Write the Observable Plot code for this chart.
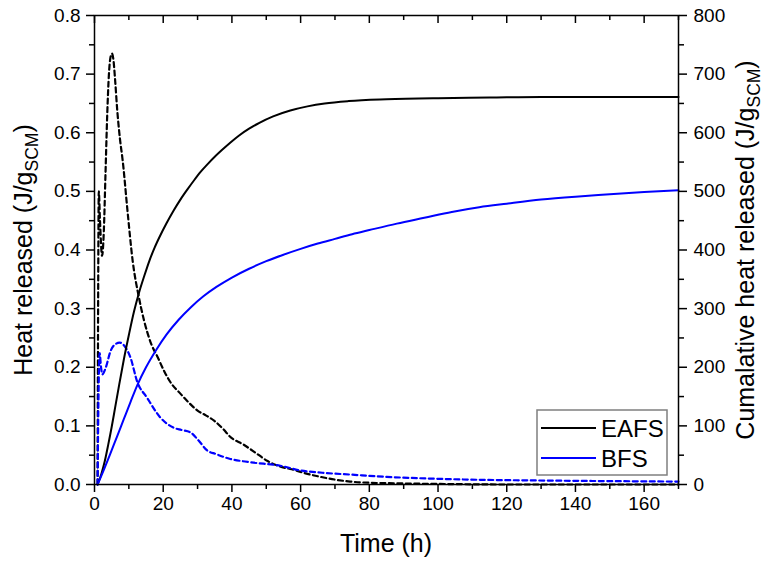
<!DOCTYPE html>
<html><head><meta charset="utf-8">
<script src="https://cdn.jsdelivr.net/npm/d3@7"></script>
<script src="https://cdn.jsdelivr.net/npm/@observablehq/plot@0.6"></script>
<style>body{margin:0;background:#fff;} svg{font-family:"Liberation Sans",Arial,sans-serif;}</style>
</head><body><div id="chart"></div>
<script>
// Heat flow (left axis, J/g_SCM)
const eafsFlowT = [0.9,1.05,1.25,1.6,2.2,2.7,3.2,3.7,4.2,4.7,5.1,5.5,6.0,6.6,7.4,8.2,9.6,11.1,12.9,14.5,16.5,18.4,20.4,22.4,25,27.4,30,32.4,34.8,37.4,39.4,43.4,47.4,50.4,54.4,57.4,61.4,65,70.4,74.4,80,88,100,120,140,170];
const eafsFlow  = [0,0.3,0.5,0.45,0.39,0.43,0.53,0.63,0.70,0.73,0.735,0.725,0.69,0.64,0.59,0.553,0.467,0.382,0.32,0.278,0.24,0.217,0.192,0.172,0.155,0.14,0.126,0.118,0.109,0.095,0.082,0.068,0.052,0.04,0.03,0.026,0.019,0.014,0.008,0.005,0.003,0.002,0.001,0,0,0];
const bfsFlowT = [0.9,1.1,1.5,1.9,2.3,3.2,4.7,5.8,7.3,9.0,10.5,12.4,15.3,19.2,23,25.3,27.9,30.3,32.8,35.3,39.3,45.3,54.1,59.9,66.3,74.3,85,98.3,112,127,145,170];
const bfsFlow  = [0,0.12,0.224,0.2,0.188,0.198,0.228,0.238,0.242,0.234,0.216,0.176,0.148,0.114,0.097,0.093,0.089,0.075,0.058,0.052,0.044,0.038,0.032,0.024,0.02,0.017,0.013,0.010,0.008,0.007,0.006,0.005];
// Cumulative heat (right axis, J/g_SCM)
const eafsCumT = [0.9,2,3,4,5,6,7,8.5,10,11.5,13,14.5,16,17.5,19,21,23,25,27,29,31,33,35,37,39.5,42,45,48,52,57,62,67,74,85,100,115,130,170];
const eafsCum  = [0,18,40,68,98,131,164,212,255,295,328,356,382,404,423,446,467,486,503,519,534,547,559,570,583,595,607,617,628,638,645,650,654,657,659,660,661,661];
const bfsCumT = [0.9,2.5,4.5,6.5,8.5,10.5,12.5,15,18,21,24.5,28,31.7,35.5,40,45,50,55,60,65,70,75,80,88,96,104,112,120,130,140,150,160,170];
const bfsCum  = [0,22,51,81,111,141,170,200,230,256,281,302,321,337,353,368,381,392,402,411,419,427,434,445,455,465,473,479,486,491,495,499,502];

const xTicks = [0,20,40,60,80,100,120,140,160];
const xMinor = [10,30,50,70,90,110,130,150,170];
const yTicks = [0,0.1,0.2,0.3,0.4,0.5,0.6,0.7,0.8];
const yMinor = [0.05,0.15,0.25,0.35,0.45,0.55,0.65,0.75];
const cumTicks = [0,100,200,300,400,500,600,700,800];
const cumMinor = [50,150,250,350,450,550,650,750];
const seriesNames = ["EAFS","BFS"];
const seriesColors = ["#000000","#0000ff"];

const zip = (t, v) => t.map((d, i) => ({t: d, v: v[i]}));
const CUM = 1000; // right axis maps 0–800 onto 0–0.8
const W = 763, H = 563, ML = 94, MR = 85, MT = 15, MB = 79;
const innerH = H - MT - MB;

const plot = Plot.plot({
  width: W, height: H,
  marginLeft: ML, marginRight: MR, marginTop: MT, marginBottom: MB,
  style: {fontFamily: "Liberation Sans, Arial, sans-serif", fontSize: "19px", background: "white", color: "black", overflow: "visible"},
  x: {domain: [0, 170]},
  y: {domain: [0, 0.8]},
  marks: [
    Plot.line(zip(eafsFlowT, eafsFlow), {x: "t", y: "v", stroke: seriesColors[0], strokeWidth: 2.2, strokeDasharray: "5,3.5", curve: "monotone-x"}),
    Plot.line(zip(bfsFlowT, bfsFlow), {x: "t", y: "v", stroke: seriesColors[1], strokeWidth: 2.2, strokeDasharray: "5,3.5", curve: "monotone-x"}),
    Plot.line(zip(eafsCumT, eafsCum), {x: "t", y: d => d.v / CUM, stroke: seriesColors[0], strokeWidth: 2, curve: "monotone-x"}),
    Plot.line(zip(bfsCumT, bfsCum), {x: "t", y: d => d.v / CUM, stroke: seriesColors[1], strokeWidth: 2, curve: "monotone-x"}),
    Plot.frame({stroke: "black", strokeWidth: 1.5}),
    Plot.axisX(xTicks, {anchor: "bottom", tickSize: 8, tickPadding: 4, strokeWidth: 1.5, tickFormat: d => d, label: null}),
    Plot.axisX(xMinor, {anchor: "bottom", tickSize: 5, strokeWidth: 1.5, tickFormat: () => "", label: null}),
    Plot.tickX(xTicks, {x: d => d, stroke: "black", strokeWidth: 1.5, insetBottom: innerH - 8}),
    Plot.tickX(xMinor, {x: d => d, stroke: "black", strokeWidth: 1.5, insetBottom: innerH - 5}),
    Plot.axisY(yTicks, {anchor: "left", tickSize: 8, tickPadding: 6, strokeWidth: 1.5, tickFormat: d3.format(".1f"), label: null}),
    Plot.axisY(yMinor, {anchor: "left", tickSize: 5, strokeWidth: 1.5, tickFormat: () => "", label: null}),
    Plot.axisY(cumTicks.map(d => d / CUM), {anchor: "right", tickSize: 8, tickPadding: 7, strokeWidth: 1.5, tickFormat: d => Math.round(d * CUM), label: null}),
    Plot.axisY(cumMinor.map(d => d / CUM), {anchor: "right", tickSize: 5, strokeWidth: 1.5, tickFormat: () => "", label: null})
  ]
});
document.getElementById("chart").appendChild(plot);

const svg = d3.select(plot);
const titleSize = 25;
function subTitle(g, main) {
  g.append("tspan").text(main);
  g.append("tspan").attr("font-size", titleSize * 0.7).attr("dy", 6).text("SCM");
  g.append("tspan").attr("dy", -6).text(")");
}
const lt = svg.append("text").attr("transform", "translate(32,250) rotate(-90)")
  .attr("text-anchor", "middle").attr("font-size", titleSize).attr("fill", "black");
subTitle(lt, "Heat released (J/g");
const rt = svg.append("text").attr("transform", "translate(754,250) rotate(-90)")
  .attr("text-anchor", "middle").attr("font-size", titleSize).attr("fill", "black");
subTitle(rt, "Cumalative heat released (J/g");
svg.append("text").attr("x", 386).attr("y", 552).attr("text-anchor", "middle")
  .attr("font-size", titleSize).attr("fill", "black").text("Time (h)");

// Legend
const lg = svg.append("g");
lg.append("rect").attr("x", 537).attr("y", 410).attr("width", 130).attr("height", 65)
  .attr("fill", "white").attr("stroke", "#7f7f7f").attr("stroke-width", 1.5);
seriesNames.forEach((name, i) => {
  const y = 428 + i * 30;
  lg.append("line").attr("x1", 541).attr("x2", 596).attr("y1", y).attr("y2", y)
    .attr("stroke", seriesColors[i]).attr("stroke-width", 2);
  lg.append("text").attr("x", 601).attr("y", y + 8.5).attr("text-anchor", "start")
    .attr("font-size", 24).attr("fill", "black").text(name);
});
</script></body></html>
